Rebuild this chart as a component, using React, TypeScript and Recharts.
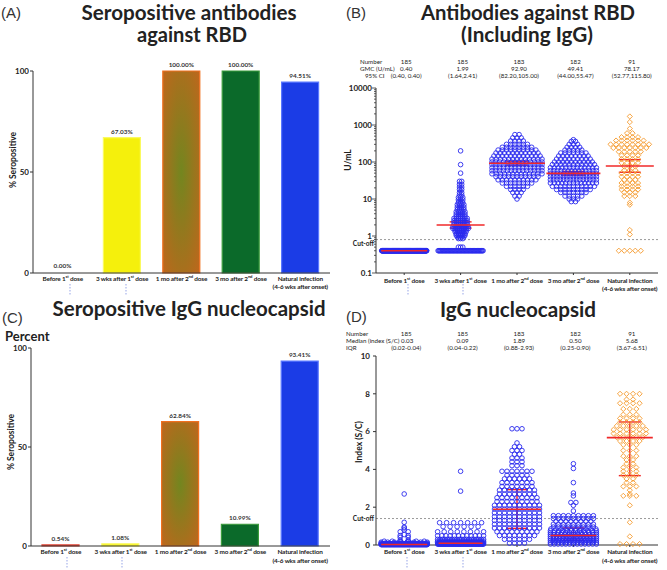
import React from "react";
import {
  BarChart,
  Bar,
  Cell,
  XAxis,
  YAxis,
  LabelList,
  ScatterChart,
  Scatter,
  ErrorBar,
  ReferenceLine,
} from "recharts";

const FONT = "Lato, 'Open Sans', sans-serif";
const INK = "#222";

// categories
const groups = [
  "Before 1st dose",
  "3 wks after 1st dose",
  "1 mo after 2nd dose",
  "3 mo after 2nd  dose",
  "Natural infection",
];
const groupSub = ["", "", "", "", "(4-6 wks after onset)"];

// (A) / (C) percent seropositive
const rbdSeroPct = [0, 67.03, 100, 100, 94.51];
const ncSeroPct = [0.54, 1.08, 62.84, 10.99, 93.41];

// (B) anti-RBD summary
const rbdNumber = [185, 185, 183, 182, 91];
const rbdGmc = [0.4, 1.99, 92.9, 49.41, 78.17];
const rbdCiLow = [0.4, 1.64, 82.2, 44.0, 52.77];
const rbdCiHigh = [0.4, 2.41, 105.0, 55.47, 115.8];
const rbdCutoff = 0.8;

// (D) anti-N summary
const ncNumber = [185, 185, 183, 182, 91];
const ncMedian = [0.03, 0.09, 1.89, 0.5, 5.68];
const ncQ1 = [0.02, 0.04, 0.88, 0.25, 3.67];
const ncQ3 = [0.04, 0.22, 2.93, 0.9, 6.51];
const ncCutoff = 1.4;

// individual subjects, read as [value, how many at that level]
type Bin = [number, number];
const rbdBefore: Bin[] = [[0.4, 185]];
const rbd3wk: Bin[] = [
  [0.4, 58], [0.5, 3], [0.85, 3], [0.95, 4], [1.05, 5], [1.15, 5], [1.3, 6], [1.45, 6],
  [1.6, 8], [1.8, 8], [2.0, 7], [2.3, 7], [2.6, 7], [3.0, 7], [3.4, 5], [3.9, 5], [4.5, 5],
  [5.2, 4], [6.0, 4], [7.0, 4], [8.0, 3], [9.5, 3], [11, 3], [13, 2], [15, 2], [18, 2],
  [21, 2], [25, 2], [30, 2], [50, 1], [85, 1], [200, 1],
];
const rbd1mo: Bin[] = [
  [10, 1], [12, 2], [15, 3], [18, 4], [22, 6], [27, 8], [33, 10], [40, 11], [48, 13],
  [58, 14], [70, 14], [85, 14], [100, 14], [120, 13], [145, 12], [175, 11], [210, 10],
  [250, 8], [300, 6], [370, 4], [450, 3], [550, 2],
];
const rbd3mo: Bin[] = [
  [8.5, 2], [10, 3], [12, 5], [15, 7], [18, 9], [22, 11], [27, 13], [33, 15], [40, 15],
  [48, 15], [58, 14], [70, 13], [85, 11], [100, 10], [120, 9], [145, 8], [175, 7],
  [210, 5], [250, 4], [300, 3], [360, 2], [400, 1],
];
const rbdNatural: Bin[] = [
  [0.4, 5], [1.1, 1], [1.45, 1], [7, 1], [8, 1], [12, 3], [15, 3], [18, 4], [22, 4],
  [27, 4], [33, 3], [40, 4], [50, 4], [60, 3], [75, 3], [95, 4], [120, 4], [150, 4],
  [190, 5], [240, 7], [300, 8], [380, 6], [470, 4], [600, 2], [800, 1], [1200, 1], [1700, 1],
];

const ncBefore: Bin[] = [
  [0.02, 65], [0.04, 55], [0.06, 25], [0.1, 12], [0.15, 8], [0.2, 6], [0.25, 2],
  [0.4, 2], [0.5, 2], [0.55, 1], [0.7, 2], [0.8, 1], [0.9, 1], [0.95, 1], [1.2, 1], [2.7, 1],
];
const nc3wk: Bin[] = [
  [0.05, 75], [0.12, 30], [0.2, 25], [0.3, 20], [0.49, 12], [0.7, 8], [0.97, 6],
  [1.18, 7], [2.85, 1], [3.9, 1],
];
const nc1mo: Bin[] = [
  [0.1, 4], [0.3, 6], [0.5, 8], [0.7, 9], [0.9, 10], [1.1, 10], [1.3, 10], [1.5, 10],
  [1.7, 10], [1.9, 10], [2.1, 10], [2.3, 9], [2.5, 9], [2.7, 8], [2.9, 8], [3.1, 7],
  [3.3, 7], [3.5, 6], [3.7, 5], [3.9, 7], [4.2, 3], [4.4, 3], [4.6, 3], [4.8, 2],
  [5.0, 3], [5.2, 2], [5.4, 1], [6.15, 3],
];
const nc3mo: Bin[] = [
  [0.05, 13], [0.15, 18], [0.25, 18], [0.35, 16], [0.45, 15], [0.55, 14], [0.65, 13],
  [0.75, 12], [0.85, 10], [0.95, 9], [1.1, 9], [1.25, 8], [1.4, 9], [1.55, 9], [1.8, 1],
  [2.1, 1], [2.25, 2], [2.6, 1], [2.75, 1], [3.3, 1], [4.05, 1], [4.3, 1],
];
const ncNatural: Bin[] = [
  [0.05, 4], [0.45, 1], [1.2, 1], [2.1, 1], [2.6, 3], [2.7, 1], [2.9, 1], [3.1, 3],
  [3.3, 2], [3.5, 2], [3.7, 3], [3.9, 3], [4.1, 3], [4.3, 2], [4.5, 2], [4.7, 3], [5.0, 3],
  [5.3, 3], [5.5, 4], [5.7, 5], [5.9, 6], [6.1, 6], [6.3, 5], [6.5, 4], [6.7, 4], [6.9, 3],
  [7.2, 3], [7.5, 4], [7.7, 2], [8.0, 4],
];

const rbdBins = [rbdBefore, rbd3wk, rbd1mo, rbd3mo, rbdNatural];
const ncBins = [ncBefore, nc3wk, nc1mo, nc3mo, ncNatural];

// swarm spread (pixels) per group
const rbdGap = [4.4, 2.2, 4.2, 4.2, 5.5];
const rbdMaxW = [45, 45, 50, 46, 42];
const ncGap = [8, 7, 5, 5, 6.5];
const ncMaxW = [46, 46, 46, 46, 44];
const rbdHalf = [23, 24, 28, 27, 24];
const ncHalf = [23, 22, 24, 23, 23];

function spread(bins: Bin[], gi: number, gap: number, maxW: number) {
  const pts: { x: number; y: number; dx: number }[] = [];
  bins.forEach(([v, n]) => {
    const step = n > 1 ? Math.min(gap, maxW / (n - 1)) : 0;
    for (let k = 0; k < n; k++) pts.push({ x: gi + 0.5, y: v, dx: (k - (n - 1) / 2) * step });
  });
  return pts;
}

const rbdPoints = rbdBins.map((b, i) => spread(b, i, rbdGap[i], rbdMaxW[i]));
const ncPoints = ncBins.map((b, i) => spread(b, i, ncGap[i], ncMaxW[i]));

const rbdSummary = rbdGmc.map((g, i) => ({
  x: i + 0.5,
  y: g,
  err: [g - rbdCiLow[i], rbdCiHigh[i] - g],
  half: rbdHalf[i],
}));
const ncSummary = ncMedian.map((m, i) => ({
  x: i + 0.5,
  y: m,
  err: [m - ncQ1[i], ncQ3[i] - m],
  half: ncHalf[i],
}));

const logTicks: number[] = [];
for (let e = -1; e <= 4; e++) {
  for (let m = 1; m <= 9; m++) {
    if (e === 4 && m > 1) break;
    logTicks.push(Number((m * Math.pow(10, e)).toPrecision(2)));
  }
}

const BLUE = "#2a2aee";
const ORANGE = "#f59a2c";
const RED = "#f02828";
const LABEL_SIZE = 6.4;

function supText(text: string, size: number) {
  const m = text.match(/^(.*?\d)(st|nd)(.*)$/);
  if (!m) return text;
  return (
    <>
      {m[1]}
      <tspan fontSize={size * 0.65} dy={-size * 0.4}>{m[2]}</tspan>
      <tspan dy={size * 0.4}>{m[3]}</tspan>
    </>
  );
}

function CatTick(props: any) {
  const { x, y, index, first = 6, gap = 8.5 } = props;
  const i = index;
  const st = { textAnchor: "middle" as const, fontSize: LABEL_SIZE, fontWeight: 700, fill: INK, fontFamily: FONT, letterSpacing: -0.15 };
  return (
    <g>
      <text x={x} y={y + first} {...st}>
        {supText(groups[i], LABEL_SIZE)}
      </text>
      {groupSub[i] && (
        <text x={x} y={y + first + gap} {...st}>
          {groupSub[i]}
        </text>
      )}
    </g>
  );
}

function LogTick(p: any) {
  const { x, y, payload } = p;
  const v = payload.value;
  const lg = Math.log10(v);
  const major = Math.abs(lg - Math.round(lg)) < 1e-6;
  return (
    <g>
      <line x1={x - (major ? 4 : 2)} x2={x} y1={y} y2={y} stroke="#333" strokeWidth={0.8} />
      {major && (
        <text x={x - 4} y={y + 2.5} textAnchor="end" fontSize={8} fontWeight={700} fill={INK} fontFamily={FONT}>
          {v}
        </text>
      )}
    </g>
  );
}

const Ring = (p: any) => (
  <circle cx={p.cx + (p.payload?.dx ?? 0)} cy={p.cy} r={2.3} fill="none" stroke={BLUE} strokeWidth={0.9} />
);

const Diamond = (p: any) => {
  const x = p.cx + (p.payload?.dx ?? 0);
  const y = p.cy;
  const s = 2.6;
  return (
    <polygon
      points={`${x},${y - s} ${x + s},${y} ${x},${y + s} ${x - s},${y}`}
      fill="none"
      stroke={ORANGE}
      strokeWidth={0.9}
    />
  );
};

const CenterLine = (p: any) => (
  <line x1={p.cx - p.payload.half} x2={p.cx + p.payload.half} y1={p.cy} y2={p.cy} stroke={RED} strokeWidth={1.6} />
);

const barFillA = ["none", "#f5f00c", "url(#mixA)", "#0b6a2a", "#1b3ce6"];
const barStrokeA = ["none", "#fafa60", "#f07020", "#3c9c3c", "#5a78ff"];
const barFillC = ["#d42a1e", "#f5f00c", "url(#mixC)", "#0b6a2a", "#1b3ce6"];
const barStrokeC = ["#e04030", "#fafa60", "#f07020", "#3c9c3c", "#5a78ff"];

function MixGradient({ id }: { id: string }) {
  return (
    <defs>
      <radialGradient id={id} cx="50%" cy="50%" r="75%">
        <stop offset="0%" stopColor="#73861f" />
        <stop offset="100%" stopColor="#c4641c" />
      </radialGradient>
    </defs>
  );
}

function PercentPanel(props: {
  values: number[];
  fills: string[];
  strokes: string[];
  gradId: string;
  height: number;
  top: number;
  yWidth: number;
  xHeight: number;
  first: number;
}) {
  const data = groups.map((g, i) => ({ name: g, pct: props.values[i] }));
  return (
    <BarChart
      width={333}
      height={props.height}
      data={data}
      margin={{ top: props.top, right: 3, bottom: 0, left: 0 }}
    >
      <MixGradient id={props.gradId} />
      <XAxis
        dataKey="name"
        height={props.xHeight}
        interval={0}
        tickLine={false}
        tickSize={0}
        tickMargin={0}
        axisLine={{ stroke: "#333" }}
        tick={(p: any) => <CatTick {...p} first={props.first} />}
      />
      <YAxis
        width={props.yWidth}
        domain={[0, 100]}
        ticks={[0, 50, 100]}
        interval={0}
        tickSize={3}
        tickMargin={1}
        axisLine={{ stroke: "#333" }}
        tickLine={{ stroke: "#333" }}
        tick={{ fontSize: 8, fontWeight: 700, fill: INK, fontFamily: FONT }}
      />
      <Bar dataKey="pct" barSize={37} minPointSize={1} isAnimationActive={false}>
        {data.map((d, i) => (
          <Cell key={d.name} fill={props.fills[i]} stroke={props.strokes[i]} strokeWidth={1.2} />
        ))}
        <LabelList
          dataKey="pct"
          position="top"
          offset={4}
          formatter={(v: any) => `${Number(v).toFixed(2)}%`}
          fontSize={6.4}
          fontWeight={700}
          fill="#333"
          fontFamily={FONT}
        />
      </Bar>
    </BarChart>
  );
}

function RbdPanel() {
  return (
    <ScatterChart width={334} height={300} margin={{ top: 88, right: 9, bottom: 0, left: 0 }}>
      <XAxis
        type="number"
        dataKey="x"
        domain={[0, 5]}
        ticks={[0.5, 1.5, 2.5, 3.5, 4.5]}
        interval={0}
        height={27}
        tickSize={2}
        tickMargin={0}
        axisLine={{ stroke: "#333" }}
        tickLine={{ stroke: "#333" }}
        tick={(p: any) => <CatTick {...p} first={7.5} />}
      />
      <YAxis
        type="number"
        dataKey="y"
        scale="log"
        domain={[0.1, 10000]}
        allowDataOverflow
        ticks={logTicks}
        interval={0}
        width={43}
        tickSize={0}
        tickMargin={0}
        tickLine={false}
        axisLine={{ stroke: "#333" }}
        tick={LogTick}
      />
      <ReferenceLine
        y={rbdCutoff}
        stroke="#999"
        strokeDasharray="2 2"
        label={{ value: "Cut-off", position: "left", offset: 2, dy: 4, fontSize: 6.6, fontWeight: 700, fill: INK, fontFamily: FONT }}
      />
      {rbdPoints.map((pts, i) => (
        <Scatter key={i} data={pts} shape={i === 4 ? Diamond : Ring} isAnimationActive={false} />
      ))}
      <Scatter data={rbdSummary} shape={CenterLine} isAnimationActive={false}>
        <ErrorBar dataKey="err" direction="y" width={11} stroke={RED} strokeWidth={1.4} />
      </Scatter>
    </ScatterChart>
  );
}

function NcPanel() {
  return (
    <ScatterChart width={334} height={285} margin={{ top: 71, right: 9, bottom: 0, left: 0 }}>
      <XAxis
        type="number"
        dataKey="x"
        domain={[0, 5]}
        ticks={[0.5, 1.5, 2.5, 3.5, 4.5]}
        interval={0}
        height={25}
        tickSize={2}
        tickMargin={0}
        axisLine={{ stroke: "#333" }}
        tickLine={{ stroke: "#333" }}
        tick={(p: any) => <CatTick {...p} first={7} gap={8.5} />}
      />
      <YAxis
        type="number"
        dataKey="y"
        domain={[0, 10]}
        ticks={[0, 2, 4, 6, 8, 10]}
        interval={0}
        width={43}
        tickSize={3}
        tickMargin={3}
        axisLine={{ stroke: "#333" }}
        tickLine={{ stroke: "#333" }}
        tick={{ fontSize: 8, fontWeight: 700, fill: INK, fontFamily: FONT }}
      />
      <ReferenceLine
        y={ncCutoff}
        stroke="#999"
        strokeDasharray="2 2"
        label={{ value: "Cut-off", position: "left", offset: 2, fontSize: 6.6, fontWeight: 700, fill: INK, fontFamily: FONT }}
      />
      {ncPoints.map((pts, i) => (
        <Scatter key={i} data={pts} shape={i === 4 ? Diamond : Ring} isAnimationActive={false} />
      ))}
      <Scatter data={ncSummary} shape={CenterLine} isAnimationActive={false}>
        <ErrorBar dataKey="err" direction="y" width={11} stroke={RED} strokeWidth={1.4} />
      </Scatter>
    </ScatterChart>
  );
}

// header columns follow the plot band of panels B and D (x from 376 to 658)
const colX = (i: number) => 376 + (i + 0.5) * (282 / 5);

function Overlay() {
  const t = { fontFamily: FONT, fill: INK } as const;
  const title = { ...t, fontSize: 20, fontWeight: 700, textAnchor: "middle" as const, lengthAdjust: "spacingAndGlyphs" };
  const letter = { fontFamily: "'Liberation Sans', Arial, sans-serif", fontSize: 15, fill: "#333" };
  const small = { ...t, fontSize: 6.2 };
  return (
    <svg width={667} height={570} style={{ position: "absolute", left: 0, top: 0, pointerEvents: "none" }}>
      <text x={1} y={18} {...letter}>(A)</text>
      <text x={346} y={18} {...letter}>(B)</text>
      <text x={2} y={323} {...letter}>(C)</text>
      <text x={346} y={322} {...letter}>(D)</text>

      <text x={189} y={20} textLength={215} {...title}>Seropositive antibodies</text>
      <text x={192} y={42} textLength={110} {...title}>against RBD</text>
      <text x={528} y={20} textLength={214} {...title}>Antibodies against RBD</text>
      <text x={527} y={42} textLength={132} {...title}>(Including IgG)</text>
      <text x={189} y={316} textLength={273} {...title}>Seropositive IgG nucleocapsid</text>
      <text x={518} y={317} textLength={156} {...title}>IgG nucleocapsid</text>
      <text x={5} y={341} {...t} fontSize={13} fontWeight={700}>Percent</text>

      <text transform="translate(15.5,160) rotate(-90)" textAnchor="middle" {...t} fontSize={8.5} fontWeight={700}>% Seropositive</text>
      <text transform="translate(14,442) rotate(-90)" textAnchor="middle" {...t} fontSize={8.5} fontWeight={700}>% Seropositive</text>
      <text transform="translate(351,160) rotate(-90)" textAnchor="middle" {...t} fontSize={8.5} fontWeight={700}>U/mL</text>
      <text transform="translate(362,442) rotate(-90)" textAnchor="middle" {...t} fontSize={8.5} fontWeight={700}>Index (S/C)</text>

      <text x={360} y={64} {...small}>Number</text>
      <text x={360} y={71} {...small}>GMC (U/mL)</text>
      <text x={365} y={78} {...small}>95% CI</text>
      {rbdNumber.map((n, i) => (
        <g key={i}>
          <text x={colX(i) + 2} y={64} textAnchor="middle" {...small}>{n}</text>
          <text x={colX(i) + 2} y={71} textAnchor="middle" {...small}>{rbdGmc[i].toFixed(2)}</text>
          <text x={colX(i) + 2} y={78} textAnchor="middle" {...small}>
            {`(${rbdCiLow[i].toFixed(2)},${i === 0 ? " " : ""}${rbdCiHigh[i].toFixed(2)})`}
          </text>
        </g>
      ))}

      <text x={346} y={336} {...small}>Number</text>
      <text x={346} y={343} {...small}>{`Median (index (S/C) ${ncMedian[0].toFixed(2)}`}</text>
      <text x={346} y={350} {...small}>IQR</text>
      {ncNumber.map((n, i) => (
        <g key={i}>
          <text x={colX(i) + 2} y={336} textAnchor="middle" {...small}>{n}</text>
          {i > 0 && (
            <text x={colX(i) + 2} y={343} textAnchor="middle" {...small}>{ncMedian[i].toFixed(2)}</text>
          )}
          <text x={colX(i) + 2} y={350} textAnchor="middle" {...small}>
            {`(${ncQ1[i].toFixed(2)}-${ncQ3[i].toFixed(2)})`}
          </text>
        </g>
      ))}

      {[
        [70, 284], [126, 284], [67, 557], [122, 557], [408, 284], [463, 284], [407, 557], [463, 557],
      ].map(([x, y], k) => (
        <line key={k} x1={x} x2={x} y1={y} y2={y + 11} stroke="#a8b4ec" strokeWidth={1.2} strokeDasharray="1.5 1.5" />
      ))}
    </svg>
  );
}

export default function App() {
  return (
    <div style={{ position: "absolute", left: 0, top: 0, width: 667, height: 570, background: "#fff", overflow: "hidden" }}>
      <div style={{ position: "absolute", left: 0, top: 0 }}>
        <PercentPanel values={rbdSeroPct} fills={barFillA} strokes={barStrokeA} gradId="mixA" height={300} top={71} yWidth={33} xHeight={27} first={7.5} />
      </div>
      <div style={{ position: "absolute", left: 0, top: 285 }}>
        <PercentPanel values={ncSeroPct} fills={barFillC} strokes={barStrokeC} gradId="mixC" height={285} top={63} yWidth={31} xHeight={24} first={8} />
      </div>
      <div style={{ position: "absolute", left: 333, top: 0 }}>
        <RbdPanel />
      </div>
      <div style={{ position: "absolute", left: 333, top: 285 }}>
        <NcPanel />
      </div>
      <Overlay />
    </div>
  );
}
